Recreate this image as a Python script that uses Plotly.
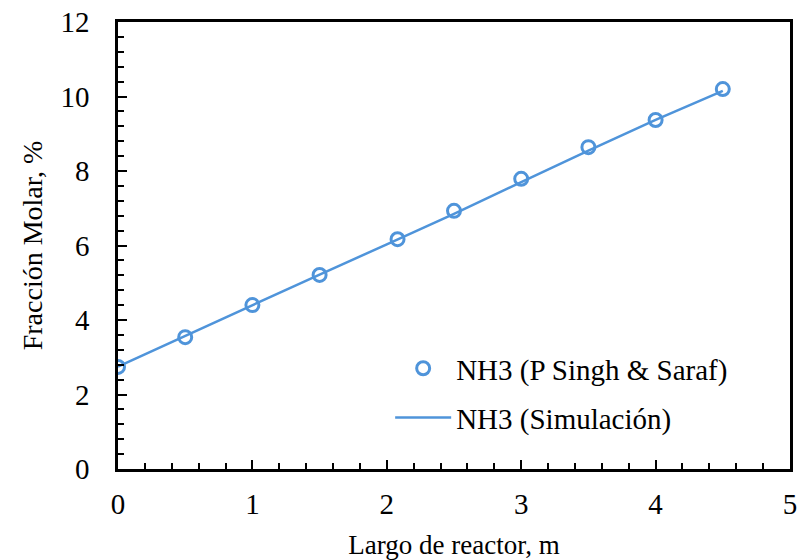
import plotly.graph_objects as go

# Data
largo_exp = [0.0, 0.5, 1.0, 1.5, 2.08, 2.5, 3.0, 3.5, 4.0, 4.5]
nh3_exp = [2.74, 3.54, 4.40, 5.21, 6.17, 6.93, 7.79, 8.64, 9.37, 10.20]

largo_sim = [0.0, 0.5, 1.0, 1.5, 2.0, 2.5, 3.0, 3.5, 4.0, 4.5]
nh3_sim = [2.75, 3.58, 4.40, 5.22, 6.03, 6.85, 7.70, 8.55, 9.37, 10.15]

x_ticks = [0, 1, 2, 3, 4, 5]
y_ticks = [0, 2, 4, 6, 8, 10, 12]

BLUE = "#4F94DA"
FONT = "Liberation Serif"

fig = go.Figure()
fig.add_trace(go.Scatter(
    x=largo_sim, y=nh3_sim, mode="lines", name="NH3 (Simulación)",
    line=dict(color=BLUE, width=2.5), legend="legend2",
))
fig.add_trace(go.Scatter(
    x=largo_exp, y=nh3_exp, mode="markers", name="NH3 (P Singh & Saraf)",
    marker=dict(symbol="circle-open", size=13, color=BLUE, line=dict(width=3, color=BLUE)),
    legend="legend",
))

axis_common = dict(
    showline=True, linecolor="black", linewidth=2.5, mirror=True,
    ticks="inside", ticklen=9, tickwidth=2, tickcolor="black",
    showgrid=False, zeroline=False, automargin=False,
    tickfont=dict(family=FONT, size=29, color="black"),
)

fig.update_xaxes(
    range=[0, 5], tickvals=x_ticks, ticktext=[str(v) for v in x_ticks],
    minor=dict(dtick=0.2, ticks="inside", ticklen=6, tickwidth=2, tickcolor="black"),
    title=dict(text="Largo de reactor, m", font=dict(family=FONT, size=27, color="black"), standoff=20),
    ticklabelstandoff=7,
    **axis_common,
)
fig.update_yaxes(
    range=[0, 12], tickvals=y_ticks, ticktext=[str(v) for v in y_ticks],
    minor=dict(dtick=0.4, ticks="inside", ticklen=6, tickwidth=2, tickcolor="black"),
    title=dict(text="Fracción Molar, %", font=dict(family=FONT, size=28, color="black"), standoff=10),
    ticklabelstandoff=20,
    **axis_common,
)

legend_common = dict(
    font=dict(family=FONT, size=29, color="black"),
    bgcolor="rgba(0,0,0,0)", borderwidth=0,
    itemwidth=56, xanchor="left", yanchor="middle", x=0.405,
)

fig.update_layout(
    width=808, height=560,
    margin=dict(l=118, r=18, t=22, b=91, autoexpand=False),
    paper_bgcolor="white", plot_bgcolor="white",
    showlegend=True,
    legend=dict(y=0.225, **legend_common),
    legend2=dict(y=0.115, **legend_common),
)

fig.write_html("out.html")
